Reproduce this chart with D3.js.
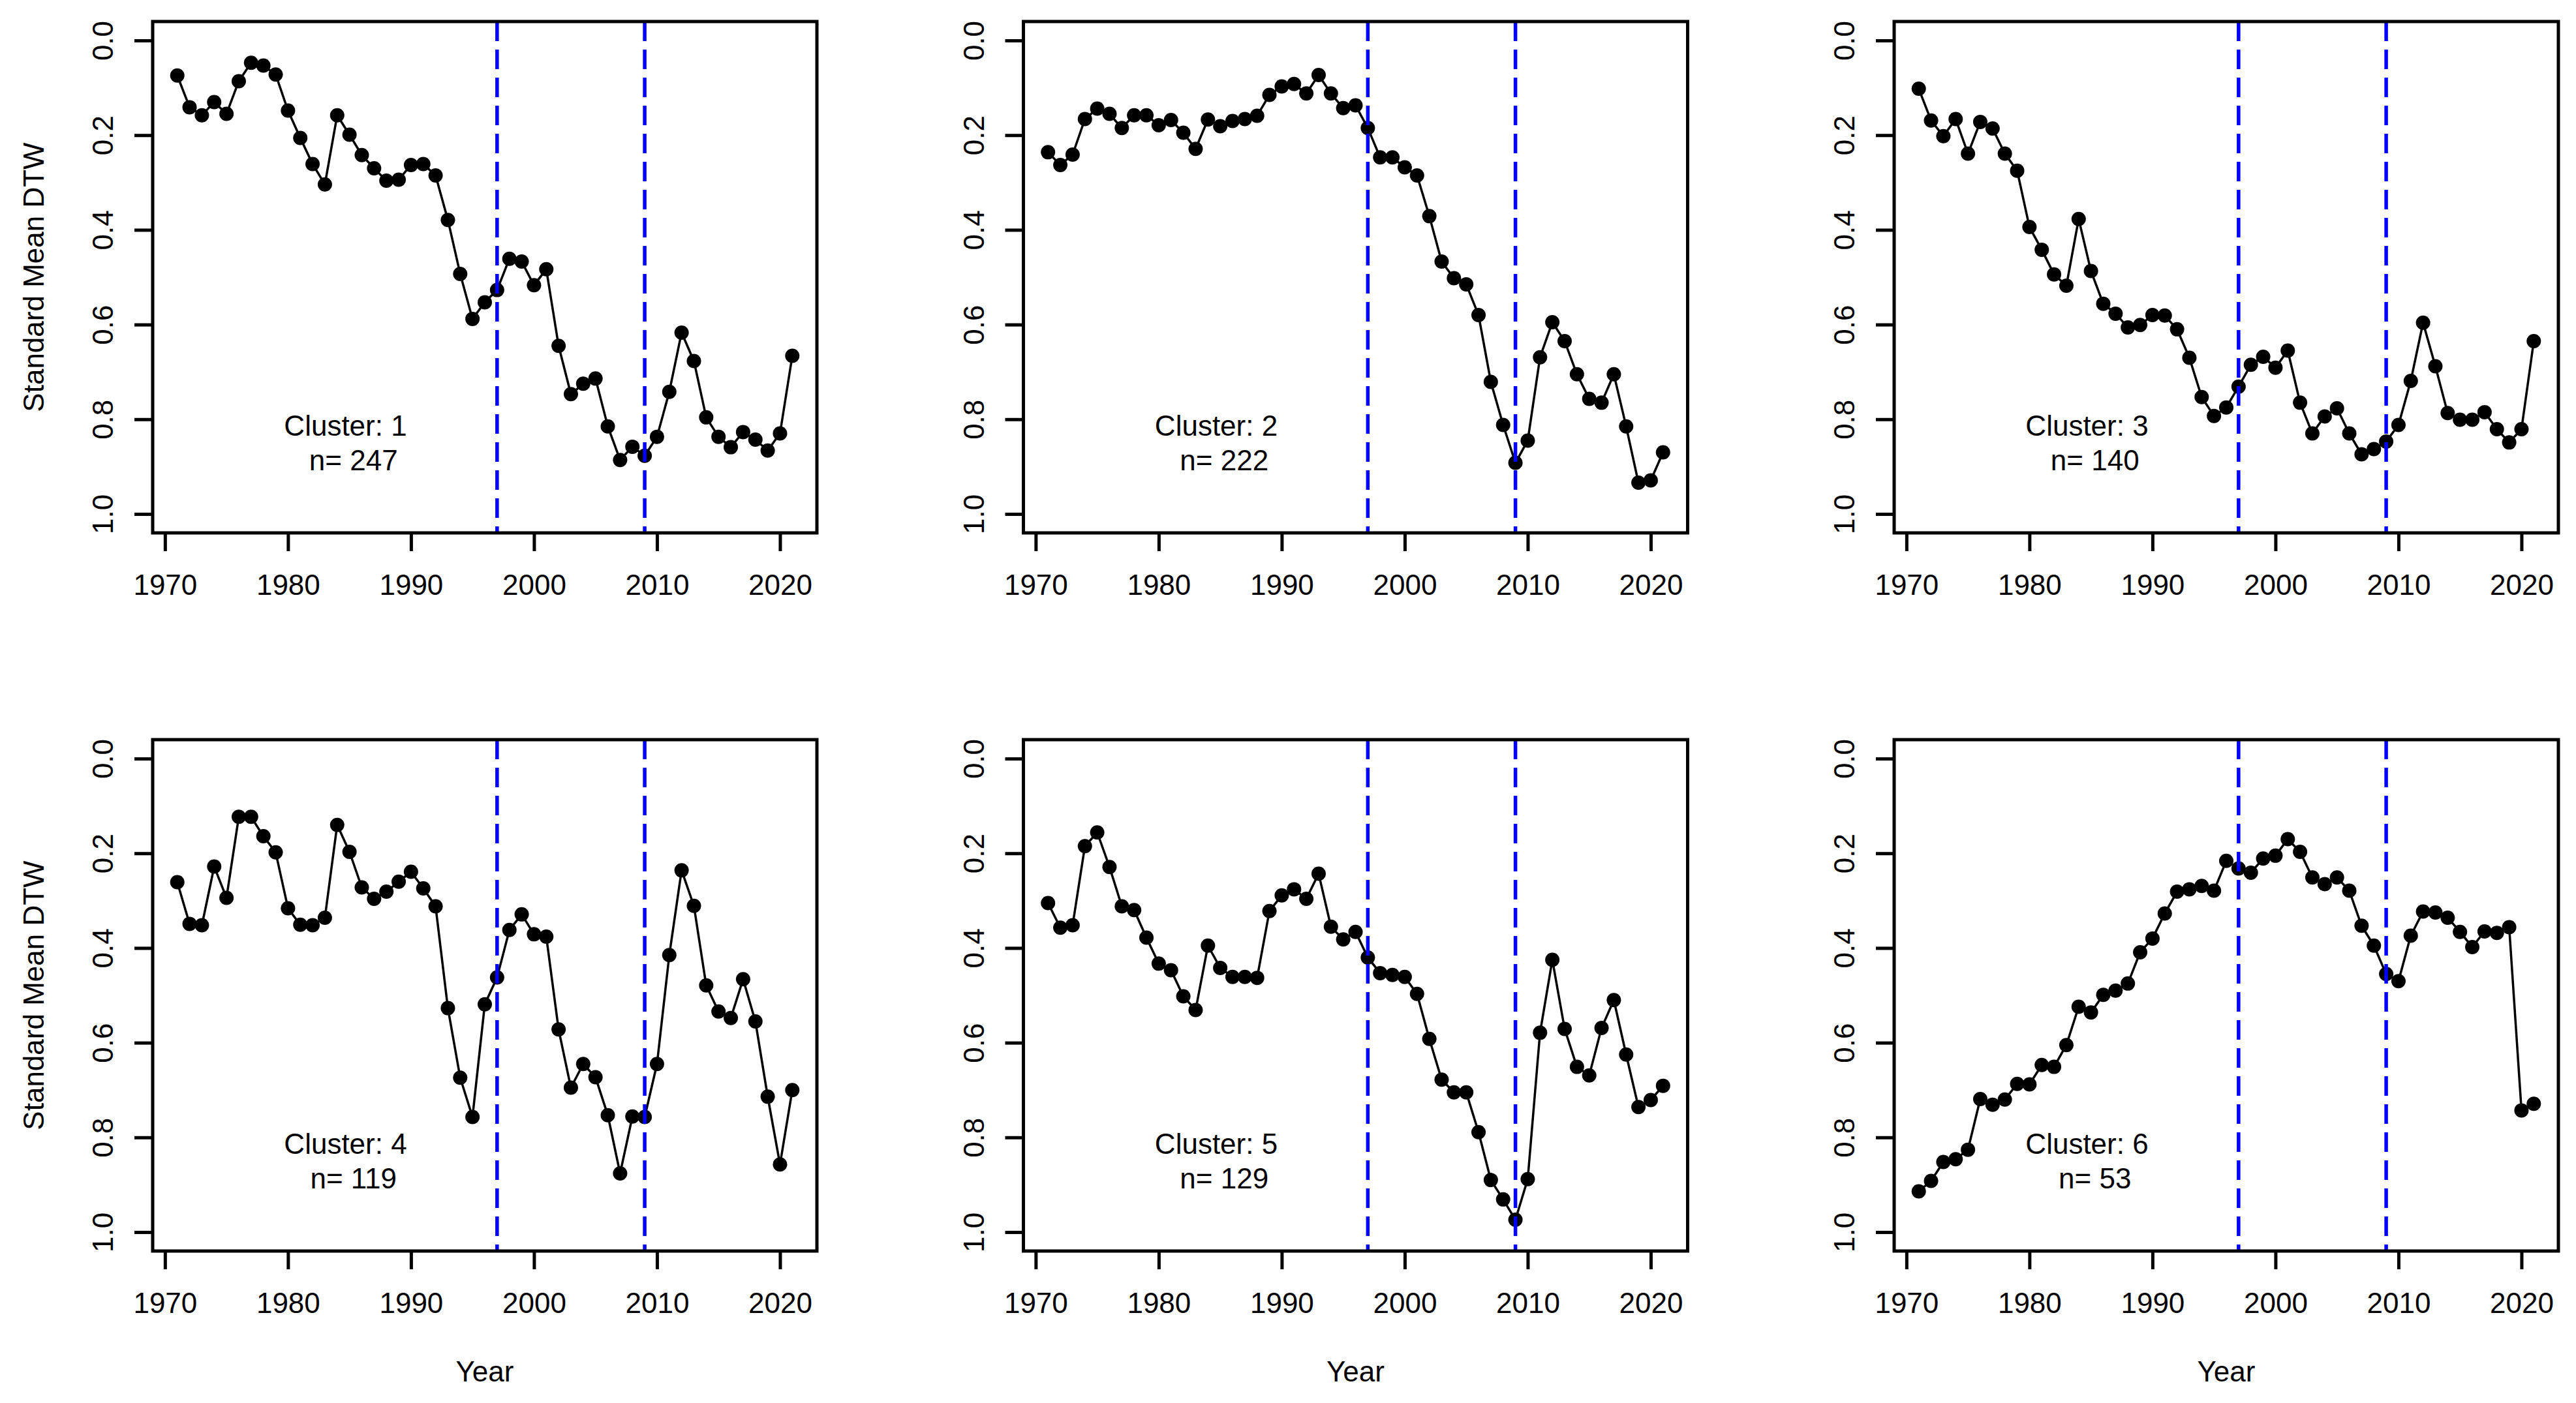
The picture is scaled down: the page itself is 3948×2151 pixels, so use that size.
<!DOCTYPE html>
<html>
<head>
<meta charset="utf-8">
<script src="https://cdn.jsdelivr.net/npm/d3@7"></script>
<style>
  html, body { margin: 0; padding: 0; background: #ffffff; }
  svg { display: block; }
  text { font-family: "Liberation Sans", Arial, sans-serif; fill: #000; }
</style>
</head>
<body>
<div id="chart"></div>
<script>
// ---------------- data ----------------
const years = [1971,1972,1973,1974,1975,1976,1977,1978,1979,1980,
               1981,1982,1983,1984,1985,1986,1987,1988,1989,1990,
               1991,1992,1993,1994,1995,1996,1997,1998,1999,2000,
               2001,2002,2003,2004,2005,2006,2007,2008,2009,2010,
               2011,2012,2013,2014,2015,2016,2017,2018,2019,2020,2021];

const cluster1 = [0.074,0.141,0.158,0.130,0.155,0.086,0.047,0.053,0.072,0.148,
                  0.206,0.261,0.304,0.158,0.199,0.242,0.270,0.296,0.294,0.263,
                  0.261,0.285,0.379,0.493,0.588,0.553,0.527,0.461,0.467,0.517,
                  0.483,0.645,0.747,0.725,0.714,0.815,0.886,0.858,0.877,0.837,
                  0.742,0.617,0.677,0.796,0.837,0.859,0.827,0.843,0.866,0.830,0.666];

const cluster2 = [0.236,0.263,0.241,0.166,0.144,0.155,0.185,0.158,0.158,0.179,
                  0.168,0.195,0.229,0.167,0.181,0.170,0.166,0.159,0.115,0.097,
                  0.092,0.112,0.073,0.112,0.143,0.137,0.185,0.247,0.247,0.268,
                  0.285,0.371,0.467,0.502,0.515,0.580,0.721,0.812,0.892,0.845,
                  0.669,0.595,0.635,0.705,0.757,0.765,0.705,0.815,0.934,0.929,0.870];

const cluster3 = [0.102,0.169,0.202,0.166,0.239,0.172,0.186,0.239,0.275,0.394,
                  0.442,0.494,0.518,0.377,0.487,0.556,0.577,0.606,0.601,0.580,
                  0.581,0.610,0.670,0.753,0.793,0.775,0.731,0.685,0.668,0.691,
                  0.655,0.765,0.830,0.794,0.777,0.830,0.874,0.863,0.847,0.812,
                  0.719,0.596,0.688,0.787,0.801,0.801,0.785,0.821,0.849,0.821,0.635];

const cluster4 = [0.261,0.349,0.352,0.228,0.294,0.123,0.123,0.164,0.198,0.316,
                  0.351,0.352,0.336,0.140,0.197,0.272,0.296,0.281,0.260,0.239,
                  0.274,0.312,0.527,0.674,0.757,0.519,0.462,0.362,0.329,0.371,
                  0.376,0.572,0.695,0.645,0.673,0.753,0.876,0.756,0.757,0.645,
                  0.415,0.236,0.311,0.479,0.534,0.548,0.466,0.555,0.714,0.857,0.700];

const cluster5 = [0.305,0.357,0.352,0.185,0.156,0.229,0.312,0.320,0.378,0.433,
                  0.447,0.502,0.531,0.395,0.442,0.461,0.461,0.463,0.322,0.289,
                  0.276,0.296,0.243,0.355,0.382,0.366,0.420,0.453,0.457,0.461,
                  0.497,0.592,0.678,0.705,0.705,0.789,0.890,0.931,0.974,0.888,
                  0.579,0.425,0.571,0.651,0.669,0.569,0.510,0.625,0.736,0.721,0.691];

const cluster6 = [0.914,0.892,0.852,0.846,0.826,0.719,0.731,0.720,0.687,0.688,
                  0.647,0.651,0.605,0.524,0.536,0.499,0.490,0.475,0.409,0.380,
                  0.327,0.281,0.276,0.269,0.279,0.216,0.232,0.241,0.211,0.205,
                  0.170,0.197,0.251,0.265,0.251,0.279,0.353,0.395,0.455,0.470,
                  0.374,0.323,0.325,0.336,0.366,0.398,0.365,0.368,0.356,0.743,0.729];

const clusterIds   = [1, 2, 3, 4, 5, 6];
const clusterSizes = [247, 222, 140, 119, 129, 53];
const breakYears   = [1997, 2009];
const xTickValues  = [1970, 1980, 1990, 2000, 2010, 2020];
const yTickValues  = [0.0, 0.2, 0.4, 0.6, 0.8, 1.0];
const yTickLabels  = ["0.0", "0.2", "0.4", "0.6", "0.8", "1.0"];
const yAxisTitle   = "Standard Mean DTW";
const xAxisTitle   = "Year";
const labelYear    = 1985;   // data position of the cluster annotation
const labelValue   = 0.835;

const seriesList = [cluster1, cluster2, cluster3, cluster4, cluster5, cluster6];

// ---------------- layout ----------------
const W = 3948, H = 2151;
const colLefts = [234, 1568.5, 2903];
const rowTops  = [33, 1134];
const panelW = 1018, panelH = 784;
const fontSize = 44;

const svg = d3.select("#chart").append("svg")
  .attr("width", W).attr("height", H)
  .attr("viewBox", `0 0 ${W} ${H}`);
svg.append("rect").attr("width", W).attr("height", H).attr("fill", "#fff");

const x = d3.scaleLinear().domain([1969, 2023]).range([0, panelW]);
const y = d3.scaleLinear().domain([-0.04, 1.04]).range([0, panelH]);

seriesList.forEach((vals, i) => {
  const row = Math.floor(i / 3), col = i % 3;
  const g = svg.append("g")
    .attr("transform", `translate(${colLefts[col]},${rowTops[row]})`);

  const pts = years.map((yr, k) => ({ year: yr, value: vals[k] }));

  // line
  g.append("path")
    .datum(pts)
    .attr("fill", "none")
    .attr("stroke", "#000")
    .attr("stroke-width", 3.5)
    .attr("stroke-linejoin", "round")
    .attr("d", d3.line().x(d => x(d.year)).y(d => y(d.value)));

  // points
  g.selectAll("circle.pt").data(pts).join("circle")
    .attr("class", "pt")
    .attr("cx", d => x(d.year))
    .attr("cy", d => y(d.value))
    .attr("r", 11)
    .attr("fill", "#000");

  // dashed vertical lines
  g.selectAll("line.brk").data(breakYears).join("line")
    .attr("class", "brk")
    .attr("x1", d => x(d)).attr("x2", d => x(d))
    .attr("y1", 0).attr("y2", panelH)
    .attr("stroke", "#0000ff")
    .attr("stroke-width", 5.5)
    .attr("stroke-dasharray", "30,13");

  // annotation
  const ann = g.append("text")
    .attr("font-size", fontSize)
    .attr("text-anchor", "middle")
    .style("white-space", "pre")
    .attr("xml:space", "preserve");
  ann.append("tspan")
    .attr("x", x(labelYear)).attr("y", y(labelValue))
    .text(`Cluster: ${clusterIds[i]} `);
  ann.append("tspan")
    .attr("x", x(labelYear)).attr("dy", "1.2em")
    .text(` n= ${clusterSizes[i]}`);

  // x axis
  const xAxis = g.append("g")
    .attr("transform", `translate(0,${panelH})`)
    .call(d3.axisBottom(x).tickValues(xTickValues).tickFormat(d3.format("d"))
      .tickSize(28).tickPadding(36));
  xAxis.select(".domain").remove();
  xAxis.selectAll(".tick line").attr("stroke", "#000").attr("stroke-width", 5);
  xAxis.selectAll(".tick text")
    .attr("font-size", fontSize)
    .attr("font-family", "Liberation Sans, Arial, sans-serif")
    .attr("fill", "#000");

  // y axis
  const yAxis = g.append("g")
    .call(d3.axisLeft(y).tickValues(yTickValues)
      .tickFormat((d, k) => yTickLabels[k]).tickSize(28));
  yAxis.select(".domain").remove();
  yAxis.selectAll(".tick line").attr("stroke", "#000").attr("stroke-width", 5);
  yAxis.selectAll(".tick text")
    .attr("x", null).attr("dy", null)
    .attr("text-anchor", "middle")
    .attr("transform", "translate(-61,0) rotate(-90)")
    .attr("font-size", fontSize)
    .attr("font-family", "Liberation Sans, Arial, sans-serif")
    .attr("fill", "#000");

  // frame
  g.append("rect")
    .attr("x", 0).attr("y", 0)
    .attr("width", panelW).attr("height", panelH)
    .attr("fill", "none")
    .attr("stroke", "#000")
    .attr("stroke-width", 5);

  // axis titles
  if (col === 0) {
    g.append("text")
      .attr("transform", `translate(-167,${panelH / 2}) rotate(-90)`)
      .attr("text-anchor", "middle")
      .attr("font-size", fontSize)
      .text(yAxisTitle);
  }
  if (row === 1) {
    g.append("text")
      .attr("x", panelW / 2).attr("y", panelH + 200)
      .attr("text-anchor", "middle")
      .attr("font-size", fontSize)
      .text(xAxisTitle);
  }
});
</script>
</body>
</html>
